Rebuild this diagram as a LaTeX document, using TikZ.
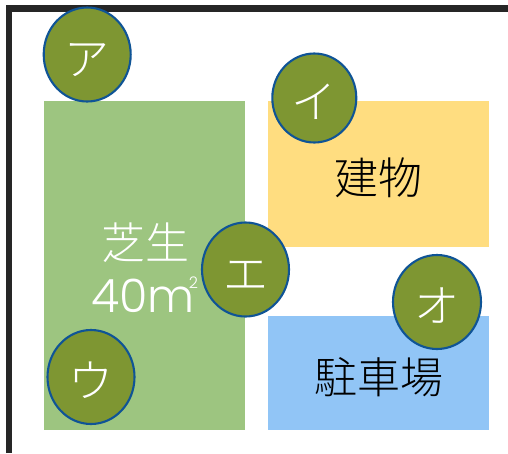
\documentclass[tikz,border=0pt]{standalone}
\usepackage{fontspec}
\setmainfont{Noto Sans CJK JP}
\newfontfamily\lightcjk[UprightFont={* Light},BoldFont={* Light}]{Noto Sans CJK JP}
\newfontfamily\latinf[UprightFont={* Light},BoldFont={* Light}]{Poppins}
\definecolor{wallc}{HTML}{262626}
\definecolor{lawnc}{HTML}{9DC580}
\definecolor{buildc}{HTML}{FFDD80}
\definecolor{parkc}{HTML}{91C5F6}
\definecolor{markc}{HTML}{7E9632}
\definecolor{markl}{HTML}{0F5496}
\usetikzlibrary{shapes.geometric}
\newcommand{\marktext}[1]{\raisebox{-20.5pt}[0pt][0pt]{#1}}
\tikzset{
  area/.style={inner sep=0pt,outer sep=0pt,anchor=north west},
  marker/.style={ellipse,draw=markl,fill=markc,line width=2.1pt,text=white,inner sep=0pt,font=\lightcjk\fontsize{45}{45}\selectfont},
  arealabel/.style={font=\lightcjk\fontsize{44}{48}\selectfont,align=center,inner sep=0pt},
}
\begin{document}
\begin{tikzpicture}[x=1pt,y=-1pt]
\useasboundingbox (0,0) rectangle (508,453);
\fill[white] (0,0) rectangle (508,453);
\draw[wallc,line width=6.5pt] (9,453) -- (9,8.5) -- (508,8.5);
\node[area,fill=lawnc,minimum width=201pt,minimum height=329pt] (lawn) at (44,101) {};
\node[area,fill=buildc,minimum width=221pt,minimum height=146pt] (build) at (268,101) {};
\node[area,fill=parkc,minimum width=221pt,minimum height=114pt] (park) at (268,316) {};
\node[arealabel,text=white] (lawnname) at (145,243) {芝生};
\node[arealabel,text=white] (lawnarea) at (143,295) {\latinf\fontsize{46}{46}\selectfont 40m\rlap{\kern-6pt\raisebox{24pt}{\fontsize{16}{16}\selectfont 2}}};
\node[arealabel] (buildname) at (378.5,178) {建物};
\node[arealabel,font=\lightcjk\fontsize{43}{48}\selectfont] (parkname) at (378.5,377) {駐車場};
\node[marker,minimum width=87pt,minimum height=94pt] (a) at (87.2,54.5) {\marktext{ア}};
\node[marker,minimum width=84pt,minimum height=89pt] (i) at (314.3,98) {\marktext{イ}};
\node[marker,minimum width=87pt,minimum height=94pt] (u) at (91,377) {\marktext{ウ}};
\node[marker,minimum width=87pt,minimum height=94pt] (e) at (245.5,269.5) {\marktext{エ}};
\node[marker,minimum width=88pt,minimum height=94pt] (o) at (437,302) {\marktext{オ}};
\end{tikzpicture}
\end{document}
